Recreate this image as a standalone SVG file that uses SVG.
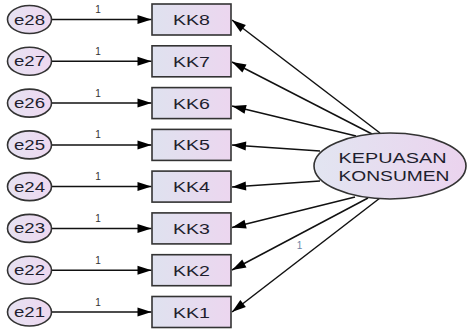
<svg xmlns="http://www.w3.org/2000/svg" width="468" height="332" viewBox="0 0 468 332">
<defs>
<linearGradient id="gRect" x1="0" y1="0" x2="1" y2="0">
<stop offset="0" stop-color="#dfe2ef"/>
<stop offset="1" stop-color="#ecd6ef"/>
</linearGradient>
<linearGradient id="gLat" x1="0" y1="0" x2="1" y2="0">
<stop offset="0" stop-color="#e2e5f1"/>
<stop offset="1" stop-color="#ebd3ee"/>
</linearGradient>
<linearGradient id="gErr" x1="0" y1="0" x2="1" y2="0">
<stop offset="0" stop-color="#e6e2f2"/>
<stop offset="1" stop-color="#eed8f0"/>
</linearGradient>
<marker id="ah" markerUnits="userSpaceOnUse" markerWidth="24" markerHeight="12" refX="22" refY="6" orient="auto" overflow="visible">
<path d="M22,6 L8,1.5 L8,10.5 Z" fill="#000"/>
</marker>
</defs>
<style>
.obs{fill:url(#gRect);stroke:#333;stroke-width:1.6}
.err{fill:url(#gErr);stroke:#333;stroke-width:1.6}
.lat{fill:url(#gLat);stroke:#333;stroke-width:1.6}
.t{font-family:"Liberation Sans",Arial,sans-serif;font-size:14px;fill:#1e1e2e;text-anchor:middle}
.w{font-family:"Liberation Sans",Arial,sans-serif;font-size:10px;fill:#333;text-anchor:middle}
.c{stroke:#111;stroke-width:1.5;fill:none;marker-end:url(#ah)}
</style>
<g id="connectors">
<line class="c" x1="51.5" y1="19.5" x2="151.5" y2="19.5"/>
<line class="c" x1="51.5" y1="61.3" x2="151.5" y2="61.3"/>
<line class="c" x1="51.5" y1="103.1" x2="151.5" y2="103.1"/>
<line class="c" x1="51.5" y1="144.9" x2="151.5" y2="144.9"/>
<line class="c" x1="51.5" y1="186.6" x2="151.5" y2="186.6"/>
<line class="c" x1="51.5" y1="228.4" x2="151.5" y2="228.4"/>
<line class="c" x1="51.5" y1="270.2" x2="151.5" y2="270.2"/>
<line class="c" x1="51.5" y1="312" x2="151.5" y2="312"/>
<line class="c" x1="380" y1="133" x2="232" y2="20"/>
<line class="c" x1="372" y1="134" x2="232" y2="62"/>
<line class="c" x1="356" y1="136" x2="232" y2="106"/>
<line class="c" x1="320" y1="151" x2="232" y2="145"/>
<line class="c" x1="320" y1="181" x2="232" y2="187"/>
<line class="c" x1="355" y1="197" x2="232" y2="227.5"/>
<line class="c" x1="368" y1="198" x2="232" y2="270"/>
<line class="c" x1="380" y1="198" x2="232" y2="312"/>
<text class="w" x="98" y="13">1</text>
<text class="w" x="98" y="54.8">1</text>
<text class="w" x="98" y="96.6">1</text>
<text class="w" x="98" y="138.4">1</text>
<text class="w" x="98" y="180.1">1</text>
<text class="w" x="98" y="221.9">1</text>
<text class="w" x="98" y="263.7">1</text>
<text class="w" x="98" y="305.5">1</text>
<text class="w" x="299.5" y="249" style="fill:#6f84a6">1</text>
</g>
<g id="e28"><ellipse class="err" cx="29.5" cy="19.5" rx="22" ry="14"/><text class="t" x="29.5" y="24.5" textLength="31" lengthAdjust="spacingAndGlyphs">e28</text></g>
<g id="e27"><ellipse class="err" cx="29.5" cy="61.3" rx="22" ry="14"/><text class="t" x="29.5" y="66.3" textLength="31" lengthAdjust="spacingAndGlyphs">e27</text></g>
<g id="e26"><ellipse class="err" cx="29.5" cy="103.1" rx="22" ry="14"/><text class="t" x="29.5" y="108.1" textLength="31" lengthAdjust="spacingAndGlyphs">e26</text></g>
<g id="e25"><ellipse class="err" cx="29.5" cy="144.9" rx="22" ry="14"/><text class="t" x="29.5" y="149.9" textLength="31" lengthAdjust="spacingAndGlyphs">e25</text></g>
<g id="e24"><ellipse class="err" cx="29.5" cy="186.6" rx="22" ry="14"/><text class="t" x="29.5" y="191.6" textLength="31" lengthAdjust="spacingAndGlyphs">e24</text></g>
<g id="e23"><ellipse class="err" cx="29.5" cy="228.4" rx="22" ry="14"/><text class="t" x="29.5" y="233.4" textLength="31" lengthAdjust="spacingAndGlyphs">e23</text></g>
<g id="e22"><ellipse class="err" cx="29.5" cy="270.2" rx="22" ry="14"/><text class="t" x="29.5" y="275.2" textLength="31" lengthAdjust="spacingAndGlyphs">e22</text></g>
<g id="e21"><ellipse class="err" cx="29.5" cy="312" rx="22" ry="14"/><text class="t" x="29.5" y="317" textLength="31" lengthAdjust="spacingAndGlyphs">e21</text></g>
<g id="KK8"><rect class="obs" x="152" y="4" width="79" height="31"/><text class="t" x="191.5" y="25" textLength="37" lengthAdjust="spacingAndGlyphs">KK8</text></g>
<g id="KK7"><rect class="obs" x="152" y="45.8" width="79" height="31"/><text class="t" x="191.5" y="66.8" textLength="37" lengthAdjust="spacingAndGlyphs">KK7</text></g>
<g id="KK6"><rect class="obs" x="152" y="87.6" width="79" height="31"/><text class="t" x="191.5" y="108.6" textLength="37" lengthAdjust="spacingAndGlyphs">KK6</text></g>
<g id="KK5"><rect class="obs" x="152" y="129.4" width="79" height="31"/><text class="t" x="191.5" y="150.4" textLength="37" lengthAdjust="spacingAndGlyphs">KK5</text></g>
<g id="KK4"><rect class="obs" x="152" y="171.1" width="79" height="31"/><text class="t" x="191.5" y="192.1" textLength="37" lengthAdjust="spacingAndGlyphs">KK4</text></g>
<g id="KK3"><rect class="obs" x="152" y="212.9" width="79" height="31"/><text class="t" x="191.5" y="233.9" textLength="37" lengthAdjust="spacingAndGlyphs">KK3</text></g>
<g id="KK2"><rect class="obs" x="152" y="254.7" width="79" height="31"/><text class="t" x="191.5" y="275.7" textLength="37" lengthAdjust="spacingAndGlyphs">KK2</text></g>
<g id="KK1"><rect class="obs" x="152" y="296.5" width="79" height="31"/><text class="t" x="191.5" y="317.5" textLength="37" lengthAdjust="spacingAndGlyphs">KK1</text></g>
<g id="KEPUASAN_KONSUMEN"><ellipse class="lat" cx="390" cy="166" rx="76" ry="33"/>
<text class="t" x="392.5" y="163" style="font-size:14.5px" textLength="108" lengthAdjust="spacingAndGlyphs">KEPUASAN</text>
<text class="t" x="394" y="180.5" style="font-size:14.5px" textLength="111" lengthAdjust="spacingAndGlyphs">KONSUMEN</text></g>
</svg>
